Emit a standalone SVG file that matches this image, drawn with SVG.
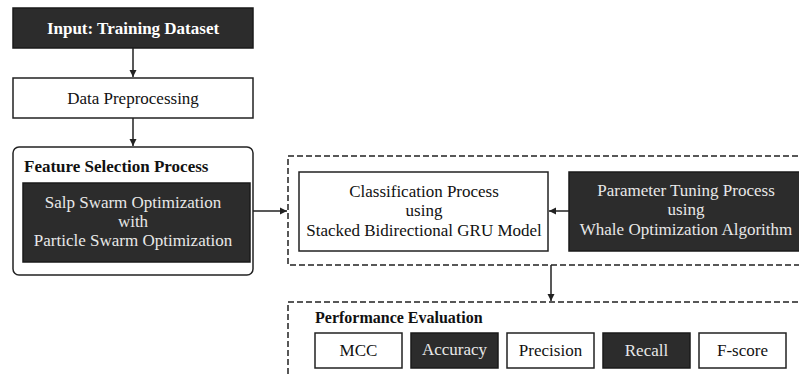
<svg xmlns="http://www.w3.org/2000/svg" width="799" height="377" viewBox="0 0 799 377">
  <style>
    .dark { fill: #2c2c2c; stroke: #1a1a1a; stroke-width: 1.5; }
    .light { fill: #ffffff; stroke: #222222; stroke-width: 1.5; }
    .dash { fill: none; stroke: #222222; stroke-width: 1.5; stroke-dasharray: 6 3; }
    .t { font-size: 17px; text-anchor: middle; }
    .tw { fill: #e8e8e8; }
    .tb { fill: #111111; }
    .bold { font-weight: bold; }
    .conn { stroke: #222222; stroke-width: 1.5; fill: none; }
  </style>
  <defs>
    <marker id="arrow" markerWidth="8" markerHeight="8" refX="7" refY="4" orient="auto" markerUnits="userSpaceOnUse">
      <path d="M0,0.5 L7,4 L0,7.5 Z" fill="#222222"/>
    </marker>
  </defs>
  <rect width="799" height="377" fill="#ffffff"/>

  <g font-family="'Liberation Serif', 'DejaVu Serif', serif">
  <!-- dashed grouping frames -->
  <g id="model-frame">
    <rect class="dash" x="288" y="156" width="530" height="109"/>
  </g>
  <g id="evaluation-frame">
    <rect class="dash" x="288" y="302" width="530" height="100"/>
  </g>

  <g id="input">
    <rect class="dark" x="13" y="8" width="240" height="40"/>
    <text class="t bold" x="133" y="34" fill="#ffffff">Input: Training Dataset</text>
  </g>

  <g id="preprocessing">
    <rect class="light" x="13" y="78" width="240" height="40"/>
    <text class="t tb" x="133" y="104">Data Preprocessing</text>
  </g>

  <g id="feature-selection">
    <rect class="light" x="13" y="147" width="240" height="128" rx="6" ry="6"/>
    <text class="t tb bold" x="24" y="172" style="text-anchor:start">Feature Selection Process</text>
    <rect class="dark" x="23" y="183" width="227" height="79"/>
    <text class="t tw" x="133" y="208">Salp Swarm Optimization</text>
    <text class="t tw" x="133" y="227">with</text>
    <text class="t tw" x="133" y="246">Particle Swarm Optimization</text>
  </g>

  <g id="classification">
    <rect class="light" x="299" y="172" width="249" height="79"/>
    <text class="t tb" x="424" y="197">Classification Process</text>
    <text class="t tb" x="424" y="216">using</text>
    <text class="t tb" x="424" y="236">Stacked Bidirectional GRU Model</text>
  </g>

  <g id="parameter-tuning">
    <rect class="dark" x="569" y="172" width="240" height="79"/>
    <text class="t tw" x="686" y="196">Parameter Tuning Process</text>
    <text class="t tw" x="686" y="215">using</text>
    <text class="t tw" x="686" y="235">Whale Optimization Algorithm</text>
  </g>

  <g id="performance-evaluation">
    <text class="tb bold" x="315" y="323" font-size="16">Performance Evaluation</text>
  </g>
  <g id="mcc">
    <rect class="light" x="315" y="333" width="87" height="35"/>
    <text class="t tb" x="358.5" y="356">MCC</text>
  </g>
  <g id="accuracy">
    <rect class="dark" x="411" y="333" width="87" height="35"/>
    <text class="t tw" x="454.5" y="355">Accuracy</text>
  </g>
  <g id="precision">
    <rect class="light" x="507" y="333" width="87" height="35"/>
    <text class="t tb" x="550.5" y="356">Precision</text>
  </g>
  <g id="recall">
    <rect class="dark" x="603" y="333" width="87" height="35"/>
    <text class="t tw" x="646.5" y="356">Recall</text>
  </g>
  <g id="f-score">
    <rect class="light" x="699" y="333" width="87" height="35"/>
    <text class="t tb" x="742.5" y="356">F-score</text>
  </g>
  </g>

  <g id="connectors">
    <line class="conn" x1="133" y1="48" x2="133" y2="77" marker-end="url(#arrow)"/>
    <line class="conn" x1="133" y1="118" x2="133" y2="146" marker-end="url(#arrow)"/>
    <line class="conn" x1="253" y1="211" x2="287" y2="211" marker-end="url(#arrow)"/>
    <line class="conn" x1="569" y1="211" x2="549" y2="211" marker-end="url(#arrow)"/>
    <line class="conn" x1="551" y1="265" x2="551" y2="301" marker-end="url(#arrow)"/>
  </g>
</svg>
